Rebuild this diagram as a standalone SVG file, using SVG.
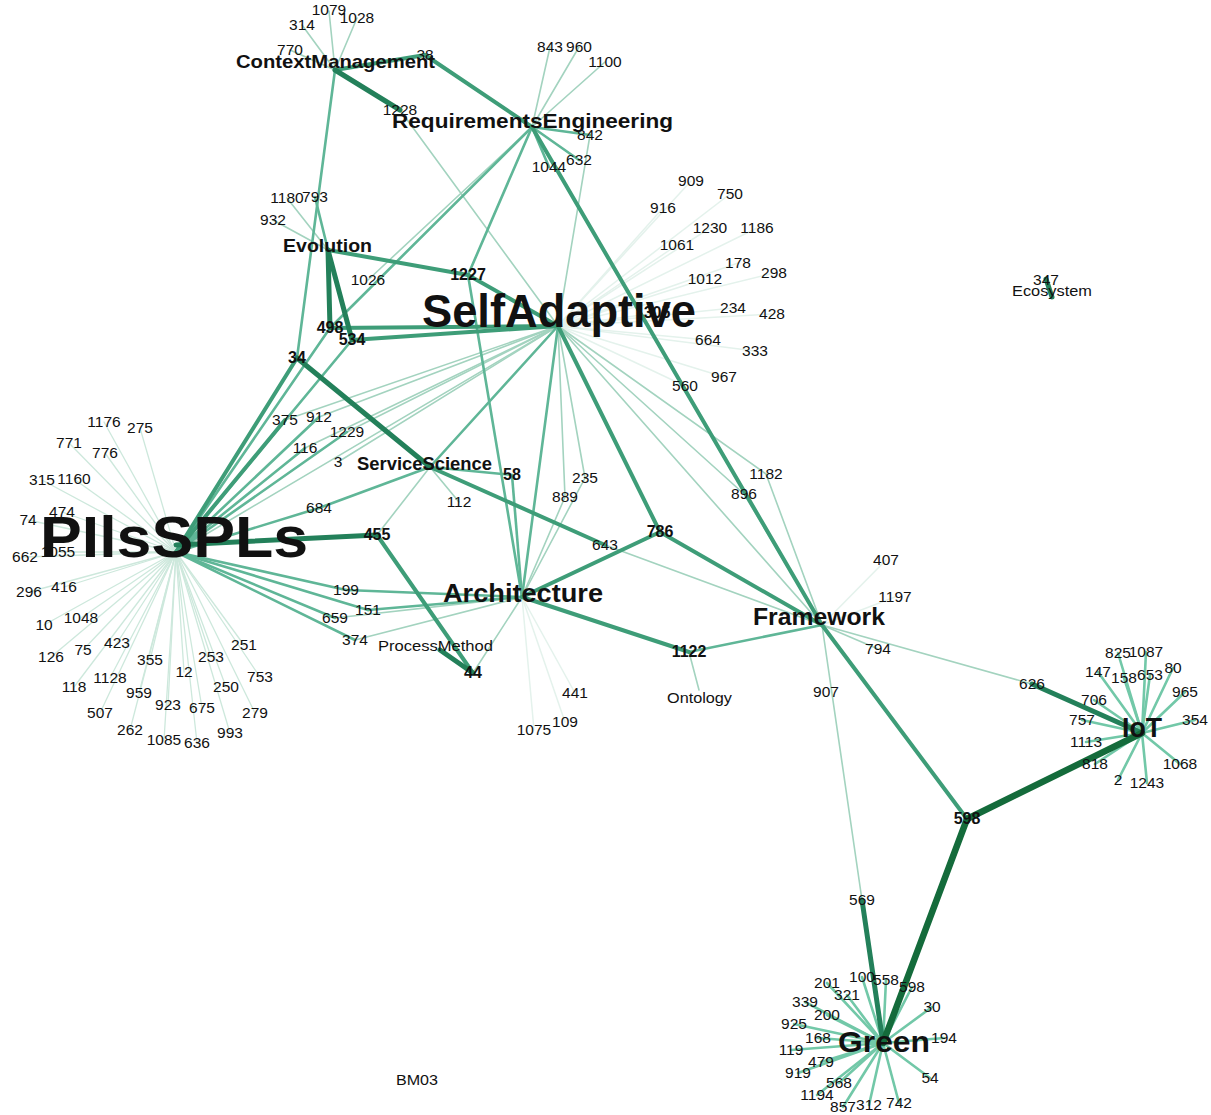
<svg xmlns="http://www.w3.org/2000/svg" width="1211" height="1115" viewBox="0 0 1211 1115">
<style>
text{font-family:"Liberation Sans",Arial,sans-serif;fill:#111}
.n{font-size:15.5px;text-anchor:middle}
.nb{font-size:16px;font-weight:bold;text-anchor:middle}
.hub{font-weight:bold}
line{stroke-linecap:round}
.f{stroke:#e4f2ec;stroke-width:1.5}
.pl{stroke:#cde8dc;stroke-width:1.3}
.l{stroke:#a3d3bf;stroke-width:1.6}
.m{stroke:#5fb697;stroke-width:2.6}
.h{stroke:#72c8a8;stroke-width:2.6}
.t{stroke:#3e9d78;stroke-width:4}
.d{stroke:#23805a;stroke-width:5}
.x{stroke:#146b3b;stroke-width:6.5}
</style>
<rect width="1211" height="1115" fill="#fff"/>
<g id="edges">
<g class="f">
<line x1="558" y1="326" x2="691" y2="181"/><line x1="558" y1="326" x2="730" y2="194"/><line x1="558" y1="326" x2="663" y2="208"/><line x1="558" y1="326" x2="710" y2="228"/><line x1="558" y1="326" x2="757" y2="228"/><line x1="558" y1="326" x2="677" y2="245"/><line x1="558" y1="326" x2="738" y2="263"/><line x1="558" y1="326" x2="774" y2="273"/><line x1="558" y1="326" x2="705" y2="279"/><line x1="558" y1="326" x2="733" y2="308"/><line x1="558" y1="326" x2="772" y2="314"/><line x1="558" y1="326" x2="708" y2="340"/><line x1="558" y1="326" x2="755" y2="351"/><line x1="558" y1="326" x2="724" y2="377"/><line x1="558" y1="326" x2="685" y2="386"/><line x1="558" y1="326" x2="657" y2="313"/>
<line x1="822" y1="625" x2="886" y2="560"/><line x1="822" y1="625" x2="895" y2="597"/>
<line x1="522" y1="597" x2="575" y2="693"/><line x1="522" y1="597" x2="534" y2="730"/><line x1="522" y1="597" x2="565" y2="722"/>
</g>
<g class="pl">
<line x1="176" y1="552" x2="104" y2="422"/><line x1="176" y1="552" x2="140" y2="428"/><line x1="176" y1="552" x2="69" y2="443"/><line x1="176" y1="552" x2="105" y2="453"/><line x1="176" y1="552" x2="42" y2="480"/><line x1="176" y1="552" x2="74" y2="479"/><line x1="176" y1="552" x2="28" y2="520"/><line x1="176" y1="552" x2="62" y2="512"/><line x1="176" y1="552" x2="25" y2="557"/><line x1="176" y1="552" x2="58" y2="552"/><line x1="176" y1="552" x2="29" y2="592"/><line x1="176" y1="552" x2="64" y2="587"/><line x1="176" y1="552" x2="44" y2="625"/><line x1="176" y1="552" x2="81" y2="618"/><line x1="176" y1="552" x2="51" y2="657"/><line x1="176" y1="552" x2="83" y2="650"/><line x1="176" y1="552" x2="117" y2="643"/><line x1="176" y1="552" x2="150" y2="660"/><line x1="176" y1="552" x2="184" y2="672"/><line x1="176" y1="552" x2="211" y2="657"/><line x1="176" y1="552" x2="244" y2="645"/><line x1="176" y1="552" x2="260" y2="677"/><line x1="176" y1="552" x2="226" y2="687"/><line x1="176" y1="552" x2="74" y2="687"/><line x1="176" y1="552" x2="110" y2="678"/><line x1="176" y1="552" x2="139" y2="693"/><line x1="176" y1="552" x2="168" y2="705"/><line x1="176" y1="552" x2="202" y2="708"/><line x1="176" y1="552" x2="255" y2="713"/><line x1="176" y1="552" x2="100" y2="713"/><line x1="176" y1="552" x2="130" y2="730"/><line x1="176" y1="552" x2="230" y2="733"/><line x1="176" y1="552" x2="164" y2="740"/><line x1="176" y1="552" x2="197" y2="743"/>
</g>
<g class="l">
<line x1="335" y1="70" x2="329" y2="11"/><line x1="335" y1="70" x2="357" y2="18"/><line x1="335" y1="70" x2="302" y2="25"/><line x1="335" y1="70" x2="290" y2="50"/>
<line x1="532" y1="127" x2="550" y2="47"/><line x1="532" y1="127" x2="579" y2="47"/><line x1="532" y1="127" x2="605" y2="62"/>
<line x1="400" y1="110" x2="558" y2="326"/>
<line x1="590" y1="135" x2="558" y2="326"/>
<line x1="328" y1="250" x2="287" y2="198"/><line x1="328" y1="250" x2="273" y2="220"/>
<line x1="558" y1="326" x2="285" y2="420"/><line x1="558" y1="326" x2="319" y2="417"/><line x1="558" y1="326" x2="347" y2="432"/><line x1="558" y1="326" x2="305" y2="448"/><line x1="558" y1="326" x2="338" y2="462"/><line x1="558" y1="326" x2="176" y2="552"/>
<line x1="558" y1="326" x2="822" y2="625"/><line x1="558" y1="326" x2="766" y2="474"/><line x1="558" y1="326" x2="744" y2="494"/><line x1="766" y1="474" x2="822" y2="625"/><line x1="744" y1="494" x2="822" y2="625"/>
<line x1="522" y1="597" x2="565" y2="497"/><line x1="522" y1="597" x2="585" y2="478"/><line x1="565" y1="497" x2="558" y2="326"/><line x1="585" y1="478" x2="558" y2="326"/>
<line x1="430" y1="467" x2="459" y2="502"/><line x1="430" y1="467" x2="377" y2="535"/>
<line x1="335" y1="618" x2="522" y2="597"/><line x1="355" y1="640" x2="522" y2="597"/><line x1="473" y1="673" x2="522" y2="597"/>
<line x1="605" y1="545" x2="822" y2="625"/>
<line x1="689" y1="652" x2="699" y2="690"/>
<line x1="822" y1="625" x2="878" y2="649"/><line x1="822" y1="625" x2="1032" y2="684"/><line x1="822" y1="625" x2="862" y2="900"/>
<line x1="532" y1="127" x2="368" y2="280"/>
</g>
<g class="m">
<line x1="335" y1="70" x2="297" y2="358"/>
<line x1="532" y1="127" x2="590" y2="135"/><line x1="532" y1="127" x2="549" y2="167"/><line x1="532" y1="127" x2="579" y2="160"/><line x1="532" y1="127" x2="468" y2="275"/><line x1="532" y1="127" x2="330" y2="328"/>
<line x1="328" y1="250" x2="315" y2="197"/>
<line x1="468" y1="275" x2="522" y2="597"/>
<line x1="330" y1="328" x2="176" y2="552"/><line x1="352" y1="340" x2="176" y2="552"/>
<line x1="176" y1="552" x2="319" y2="417"/><line x1="176" y1="552" x2="347" y2="432"/><line x1="176" y1="552" x2="305" y2="448"/>
<line x1="558" y1="326" x2="430" y2="467"/><line x1="558" y1="326" x2="522" y2="597"/>
<line x1="176" y1="552" x2="319" y2="508"/><line x1="319" y1="508" x2="430" y2="467"/>
<line x1="176" y1="552" x2="346" y2="590"/><line x1="346" y1="590" x2="522" y2="597"/>
<line x1="176" y1="552" x2="368" y2="610"/><line x1="368" y1="610" x2="522" y2="597"/>
<line x1="176" y1="552" x2="335" y2="618"/><line x1="176" y1="552" x2="355" y2="640"/>
<line x1="430" y1="467" x2="512" y2="475"/><line x1="512" y1="475" x2="522" y2="597"/>
<line x1="689" y1="652" x2="822" y2="625"/>
</g>
<g class="h">
<line x1="1142" y1="733" x2="1118" y2="653"/><line x1="1142" y1="733" x2="1146" y2="652"/><line x1="1142" y1="733" x2="1098" y2="672"/><line x1="1142" y1="733" x2="1124" y2="678"/><line x1="1142" y1="733" x2="1150" y2="675"/><line x1="1142" y1="733" x2="1173" y2="668"/><line x1="1142" y1="733" x2="1185" y2="692"/><line x1="1142" y1="733" x2="1094" y2="700"/><line x1="1142" y1="733" x2="1082" y2="720"/><line x1="1142" y1="733" x2="1195" y2="720"/><line x1="1142" y1="733" x2="1086" y2="742"/><line x1="1142" y1="733" x2="1095" y2="764"/><line x1="1142" y1="733" x2="1180" y2="764"/><line x1="1142" y1="733" x2="1118" y2="780"/><line x1="1142" y1="733" x2="1147" y2="783"/>
<line x1="883" y1="1043" x2="827" y2="983"/><line x1="883" y1="1043" x2="862" y2="977"/><line x1="883" y1="1043" x2="886" y2="980"/><line x1="883" y1="1043" x2="912" y2="987"/><line x1="883" y1="1043" x2="847" y2="995"/><line x1="883" y1="1043" x2="805" y2="1002"/><line x1="883" y1="1043" x2="932" y2="1007"/><line x1="883" y1="1043" x2="827" y2="1015"/><line x1="883" y1="1043" x2="794" y2="1024"/><line x1="883" y1="1043" x2="818" y2="1038"/><line x1="883" y1="1043" x2="944" y2="1038"/><line x1="883" y1="1043" x2="791" y2="1050"/><line x1="883" y1="1043" x2="821" y2="1062"/><line x1="883" y1="1043" x2="798" y2="1073"/><line x1="883" y1="1043" x2="930" y2="1078"/><line x1="883" y1="1043" x2="839" y2="1083"/><line x1="883" y1="1043" x2="817" y2="1095"/><line x1="883" y1="1043" x2="843" y2="1107"/><line x1="883" y1="1043" x2="869" y2="1105"/><line x1="883" y1="1043" x2="899" y2="1103"/>
</g>
<g class="t">
<line x1="335" y1="70" x2="425" y2="55"/><line x1="425" y1="55" x2="532" y2="127"/>
<line x1="532" y1="127" x2="822" y2="625"/>
<line x1="328" y1="250" x2="468" y2="275"/><line x1="468" y1="275" x2="558" y2="326"/>
<line x1="330" y1="328" x2="558" y2="326"/><line x1="352" y1="340" x2="558" y2="326"/>
<line x1="297" y1="358" x2="176" y2="552"/><line x1="176" y1="552" x2="285" y2="420"/>
<line x1="558" y1="326" x2="660" y2="532"/>
<line x1="430" y1="467" x2="605" y2="545"/>
<line x1="522" y1="597" x2="660" y2="532"/><line x1="660" y1="532" x2="822" y2="625"/>
<line x1="522" y1="597" x2="689" y2="652"/>
<line x1="377" y1="535" x2="473" y2="673"/>
<line x1="822" y1="625" x2="967" y2="819"/>
</g>
<g class="d">
<line x1="335" y1="70" x2="400" y2="110"/>
<line x1="328" y1="250" x2="330" y2="328"/><line x1="328" y1="250" x2="352" y2="340"/>
<line x1="297" y1="358" x2="430" y2="467"/>
<line x1="176" y1="545" x2="377" y2="535"/>
<line x1="440" y1="650" x2="473" y2="673"/>
<line x1="1032" y1="684" x2="1142" y2="733"/>
<line x1="862" y1="900" x2="883" y2="1043"/>
<line x1="1046" y1="279" x2="1052" y2="297"/>
</g>
<g class="x">
<line x1="967" y1="819" x2="1142" y2="733"/><line x1="967" y1="819" x2="883" y2="1043"/>
</g>
</g>
<g id="leaf-nodes">
<text class="n" x="329" y="15">1079</text><text class="n" x="357" y="23">1028</text><text class="n" x="302" y="30">314</text><text class="n" x="290" y="55">770</text><text class="n" x="425" y="60">38</text>
<text class="n" x="550" y="52">843</text><text class="n" x="579" y="52">960</text><text class="n" x="605" y="67">1100</text><text class="n" x="400" y="115">1228</text><text class="n" x="590" y="140">842</text><text class="n" x="549" y="172">1044</text><text class="n" x="579" y="165">632</text>
<text class="n" x="287" y="203">1180</text><text class="n" x="315" y="202">793</text><text class="n" x="273" y="225">932</text><text class="n" x="368" y="285">1026</text>
<text class="n" x="691" y="186">909</text><text class="n" x="730" y="199">750</text><text class="n" x="663" y="213">916</text><text class="n" x="710" y="233">1230</text><text class="n" x="757" y="233">1186</text><text class="n" x="677" y="250">1061</text><text class="n" x="738" y="268">178</text><text class="n" x="774" y="278">298</text><text class="n" x="705" y="284">1012</text><text class="n" x="733" y="313">234</text><text class="n" x="772" y="319">428</text><text class="n" x="708" y="345">664</text><text class="n" x="755" y="356">333</text><text class="n" x="724" y="382">967</text><text class="n" x="685" y="391">560</text>
<text class="n" x="285" y="425">375</text><text class="n" x="319" y="422">912</text><text class="n" x="347" y="437">1229</text><text class="n" x="305" y="453">116</text><text class="n" x="338" y="467">3</text><text class="n" x="319" y="513">684</text><text class="n" x="459" y="507">112</text><text class="n" x="585" y="483">235</text><text class="n" x="565" y="502">889</text><text class="n" x="605" y="550">643</text>
<text class="n" x="346" y="595">199</text><text class="n" x="368" y="615">151</text><text class="n" x="335" y="623">659</text><text class="n" x="355" y="645">374</text><text class="n" x="575" y="698">441</text><text class="n" x="534" y="735">1075</text><text class="n" x="565" y="727">109</text>
<text class="n" x="104" y="427">1176</text><text class="n" x="140" y="433">275</text><text class="n" x="69" y="448">771</text><text class="n" x="105" y="458">776</text><text class="n" x="42" y="485">315</text><text class="n" x="74" y="484">1160</text><text class="n" x="28" y="525">74</text><text class="n" x="62" y="517">474</text><text class="n" x="25" y="562">662</text><text class="n" x="58" y="557">1055</text><text class="n" x="29" y="597">296</text><text class="n" x="64" y="592">416</text><text class="n" x="44" y="630">10</text><text class="n" x="81" y="623">1048</text><text class="n" x="51" y="662">126</text><text class="n" x="83" y="655">75</text><text class="n" x="117" y="648">423</text><text class="n" x="150" y="665">355</text><text class="n" x="184" y="677">12</text><text class="n" x="211" y="662">253</text><text class="n" x="244" y="650">251</text><text class="n" x="260" y="682">753</text><text class="n" x="226" y="692">250</text><text class="n" x="74" y="692">118</text><text class="n" x="110" y="683">1128</text><text class="n" x="139" y="698">959</text><text class="n" x="168" y="710">923</text><text class="n" x="202" y="713">675</text><text class="n" x="255" y="718">279</text><text class="n" x="100" y="718">507</text><text class="n" x="130" y="735">262</text><text class="n" x="230" y="738">993</text><text class="n" x="164" y="745">1085</text><text class="n" x="197" y="748">636</text>
<text class="n" x="766" y="479">1182</text><text class="n" x="744" y="499">896</text><text class="n" x="886" y="565">407</text><text class="n" x="895" y="602">1197</text><text class="n" x="878" y="654">794</text><text class="n" x="826" y="697">907</text><text class="n" x="1032" y="689">626</text>
<text class="n" x="1118" y="658">825</text><text class="n" x="1146" y="657">1087</text><text class="n" x="1098" y="677">147</text><text class="n" x="1124" y="683">158</text><text class="n" x="1150" y="680">653</text><text class="n" x="1173" y="673">80</text><text class="n" x="1185" y="697">965</text><text class="n" x="1094" y="705">706</text><text class="n" x="1082" y="725">757</text><text class="n" x="1195" y="725">354</text><text class="n" x="1086" y="747">1113</text><text class="n" x="1095" y="769">818</text><text class="n" x="1180" y="769">1068</text><text class="n" x="1118" y="785">2</text><text class="n" x="1147" y="788">1243</text>
<text class="n" x="862" y="905">569</text><text class="n" x="827" y="988">201</text><text class="n" x="862" y="982">100</text><text class="n" x="886" y="985">558</text><text class="n" x="912" y="992">598</text><text class="n" x="847" y="1000">321</text><text class="n" x="805" y="1007">339</text><text class="n" x="932" y="1012">30</text><text class="n" x="827" y="1020">200</text><text class="n" x="794" y="1029">925</text><text class="n" x="818" y="1043">168</text><text class="n" x="944" y="1043">194</text><text class="n" x="791" y="1055">119</text><text class="n" x="821" y="1067">479</text><text class="n" x="798" y="1078">919</text><text class="n" x="930" y="1083">54</text><text class="n" x="839" y="1088">568</text><text class="n" x="817" y="1100">1194</text><text class="n" x="843" y="1112">857</text><text class="n" x="869" y="1110">312</text><text class="n" x="899" y="1108">742</text>
</g>
<g id="bold-nodes">
<text class="nb" x="468" y="280">1227</text>
<text class="nb" x="330" y="333">498</text>
<text class="nb" x="352" y="345">534</text>
<text class="nb" x="297" y="363">34</text>
<text class="nb" x="657" y="318">305</text>
<text class="nb" x="377" y="540">455</text>
<text class="nb" x="512" y="480">58</text>
<text class="nb" x="473" y="678">44</text>
<text class="nb" x="660" y="537">786</text>
<text class="nb" x="689" y="657">1122</text>
<text class="nb" x="967" y="824">598</text>
</g>
<g id="n-ContextManagement"><text class="hub" x="236" y="68" font-size="19" textLength="199" lengthAdjust="spacingAndGlyphs">ContextManagement</text></g>
<g id="n-RequirementsEngineering"><text class="hub" x="392" y="128" font-size="21" textLength="281" lengthAdjust="spacingAndGlyphs">RequirementsEngineering</text></g>
<g id="n-Evolution"><text class="hub" x="283" y="252" font-size="18" textLength="89" lengthAdjust="spacingAndGlyphs">Evolution</text></g>
<g id="n-SelfAdaptive"><text class="hub" x="422" y="327" font-size="47" textLength="274" lengthAdjust="spacingAndGlyphs">SelfAdaptive</text></g>
<g id="n-PIlsSPLs"><text class="hub" x="40" y="557" font-size="58" textLength="268" lengthAdjust="spacingAndGlyphs">PIlsSPLs</text></g>
<g id="n-ServiceScience"><text class="hub" x="357" y="470" font-size="18" textLength="135" lengthAdjust="spacingAndGlyphs">ServiceScience</text></g>
<g id="n-Architecture"><text class="hub" x="443" y="602" font-size="25" textLength="160" lengthAdjust="spacingAndGlyphs">Architecture</text></g>
<g id="n-ProcessMethod"><text x="378" y="651" font-size="14" textLength="115" lengthAdjust="spacingAndGlyphs">ProcessMethod</text></g>
<g id="n-Framework"><text class="hub" x="753" y="625" font-size="23" textLength="132" lengthAdjust="spacingAndGlyphs">Framework</text></g>
<g id="n-Ontology"><text x="667" y="703" font-size="14" textLength="65" lengthAdjust="spacingAndGlyphs">Ontology</text></g>
<g id="n-IoT"><text class="hub" x="1122" y="737" font-size="28" textLength="40" lengthAdjust="spacingAndGlyphs">IoT</text></g>
<g id="n-Green"><text class="hub" x="838" y="1052" font-size="30" textLength="92" lengthAdjust="spacingAndGlyphs">Green</text></g>
<g id="n-Ecosystem"><text x="1012" y="296" font-size="14" textLength="80" lengthAdjust="spacingAndGlyphs">Ecosystem</text></g>
<g id="n-BM03"><text x="396" y="1085" font-size="14" textLength="42" lengthAdjust="spacingAndGlyphs">BM03</text></g>
<g id="n-347"><text class="n" x="1046" y="285">347</text></g>
</svg>
